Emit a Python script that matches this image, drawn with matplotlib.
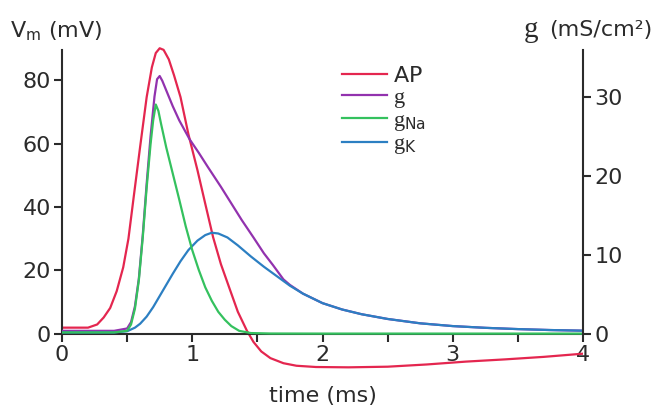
import numpy as np
import matplotlib
matplotlib.use("Agg")
import matplotlib.pyplot as plt

plt.rcParams['font.family'] = ['DejaVu Sans']
plt.rcParams['mathtext.fontset'] = 'custom'
plt.rcParams['mathtext.rm'] = 'Liberation Serif'
plt.rcParams['mathtext.sf'] = 'DejaVu Sans'
plt.rcParams['mathtext.it'] = 'Liberation Serif:italic'

# action potential (mV)
t_ap = [0, 0.2, 0.27, 0.32, 0.37, 0.42, 0.47, 0.51, 0.55, 0.6, 0.65, 0.69, 0.72, 0.75,
        0.78, 0.82, 0.86, 0.91, 0.97, 1.04, 1.1, 1.16, 1.22, 1.29, 1.35, 1.42, 1.47,
        1.53, 1.6, 1.7, 1.8, 1.95, 2.2, 2.5, 2.8, 3.1, 3.4, 3.7, 4.0]
v_ap = [2, 2, 3.0, 5.2, 8.2, 13.5, 21, 30, 43, 59, 74.6, 84, 88.5, 90,
        89.5, 86.5, 81.5, 74.6, 63, 51.6, 41, 30.5, 22, 13.9, 7, 1.0, -2.5,
        -5.5, -7.6, -9.2, -10.0, -10.4, -10.5, -10.3, -9.6, -8.7, -8.0, -7.2, -6.2]

# total conductance g (mS/cm2)
t_g = [0, 0.4, 0.5, 0.53, 0.56, 0.59, 0.62, 0.65, 0.68, 0.71, 0.73, 0.75, 0.77, 0.8,
       0.85, 0.9, 0.98, 1.05, 1.12, 1.22, 1.3, 1.38, 1.47, 1.55, 1.62, 1.7, 1.75,
       1.85, 2.0, 2.15, 2.3, 2.5, 2.75, 3.0, 3.25, 3.5, 3.75, 4.0]
g_tot = [0.4, 0.4, 0.7, 1.5, 3.5, 7, 12.5, 19, 25, 30, 32.2, 32.6, 32.0, 30.8,
         28.8, 27, 24.6, 22.9, 21.1, 18.6, 16.5, 14.4, 12.2, 10.2, 8.7, 6.9, 6.2,
         5.1, 3.9, 3.1, 2.5, 1.9, 1.35, 1.0, 0.78, 0.62, 0.5, 0.42]

# sodium conductance
t_na = [0, 0.4, 0.5, 0.53, 0.56, 0.59, 0.62, 0.65, 0.68, 0.7, 0.72, 0.74, 0.76, 0.8,
        0.85, 0.9, 0.95, 1.0, 1.05, 1.1, 1.15, 1.2, 1.25, 1.3, 1.36, 1.45, 1.6, 2.0,
        3.0, 4.0]
g_na = [0.2, 0.2, 0.4, 1.2, 3.2, 6.8, 12.2, 18.5, 24, 27, 29, 28.2, 26.6, 23.6,
        20.3, 17, 13.6, 10.6, 8.1, 5.9, 4.2, 2.8, 1.8, 1.0, 0.4, 0.12, 0.06, 0.05,
        0.05, 0.05]

# potassium conductance
t_k = [0, 0.4, 0.5, 0.56, 0.6, 0.65, 0.7, 0.75, 0.8, 0.85, 0.91, 0.97, 1.04, 1.1,
       1.15, 1.2, 1.27, 1.35, 1.45, 1.55, 1.65, 1.75, 1.85, 2.0, 2.15, 2.3, 2.5,
       2.75, 3.0, 3.25, 3.5, 3.75, 4.0]
g_k = [0.2, 0.2, 0.35, 0.8, 1.3, 2.2, 3.4, 4.8, 6.2, 7.6, 9.2, 10.6, 11.8, 12.5,
       12.8, 12.7, 12.2, 11.2, 9.8, 8.5, 7.3, 6.1, 5.1, 3.9, 3.1, 2.5, 1.9,
       1.35, 1.0, 0.78, 0.62, 0.5, 0.42]

c_ap = '#e4264f'
c_g = '#9232ae'
c_na = '#34c15e'
c_k = '#2c7fc2'
dark = '#2b2b2b'
fs = 16

fig = plt.figure(figsize=(6.56, 4.11), dpi=100)
ax = fig.add_axes([62/656, 1 - 378/411, 521/656, 336/411])
ax2 = ax.twinx()

l_ap, = ax.plot(t_ap, v_ap, color=c_ap, lw=1.6)
l_g, = ax2.plot(t_g, g_tot, color=c_g, lw=1.6)
l_k, = ax2.plot(t_k, g_k, color=c_k, lw=1.6)
l_na, = ax2.plot(t_na, g_na, color=c_na, lw=1.6)

ax.set_xlim(0, 4)
ax.set_ylim(-13.86, 91.97)
ax2.set_ylim(-5.56, 36.9)

for a in (ax, ax2):
    a.spines['top'].set_visible(False)
    a.patch.set_visible(False)
ax.spines['right'].set_visible(False)
ax2.spines['left'].set_visible(False)
ax2.spines['bottom'].set_visible(False)
ax.spines['bottom'].set_position(('data', 0))
ax.spines['left'].set_bounds(0, 89.4)
ax2.spines['right'].set_bounds(0, 35.9)
for s in (ax.spines['bottom'], ax.spines['left'], ax2.spines['right']):
    s.set_color(dark)
    s.set_linewidth(1.5)

ax.set_xticks([0, 1, 2, 3, 4])
ax.set_xticks([0.5, 1.5, 2.5, 3.5], minor=True)
ax.set_yticks([0, 20, 40, 60, 80])
ax2.set_yticks([0, 10, 20, 30])
ax.tick_params(axis='both', which='both', length=6, width=1.5, color=dark,
               labelsize=fs, labelcolor=dark, pad=2)
ax2.tick_params(axis='y', length=6, width=1.5, color=dark,
                labelsize=fs, labelcolor=dark, pad=2)

ax.set_xlabel('time (ms)', fontsize=fs, color=dark, labelpad=15)
fig.text(10/656, 1 - 30/411, r'$\mathsf{V}_{\mathsf{m}}$ (mV)', fontsize=fs,
         color=dark, ha='left', va='center')
fig.text(652/656, 1 - 30/411, '(mS/cm²)', fontsize=fs,
         color=dark, ha='right', va='center')
fig.text(538/656, 1 - 30/411, 'g', fontsize=21, family='Liberation Serif',
         color=dark, ha='right', va='center')

labels = [r'$\mathsf{AP}$', r'$\mathrm{g}$', r'$\mathrm{g}_{\mathsf{Na}}$',
          r'$\mathrm{g}_{\mathsf{K}}$']
fig.legend([l_ap, l_g, l_na, l_k], labels, loc='upper left',
           bbox_to_anchor=(331/656, 1 - 55/411), frameon=False, fontsize=fs,
           handlelength=2.0, handletextpad=0.3, labelspacing=0.02, borderpad=0,
           labelcolor=dark)

fig.savefig('out.png', dpi=100)
